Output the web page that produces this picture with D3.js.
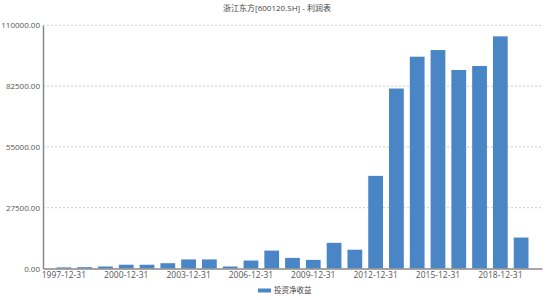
<!DOCTYPE html>
<html>
<head>
<meta charset="utf-8">
<script src="https://cdn.jsdelivr.net/npm/d3@7"></script>
<style>
	body { margin: 0; background: #fff; }
	text { font-family: "Open Sans", "Noto Sans CJK SC", sans-serif; }
</style>
</head>
<body>
<svg width="550" height="300"></svg>
<script>
var years = ["1997-12-31","1998-12-31","1999-12-31","2000-12-31","2001-12-31","2002-12-31",
	"2003-12-31","2004-12-31","2005-12-31","2006-12-31","2007-12-31","2008-12-31",
	"2009-12-31","2010-12-31","2011-12-31","2012-12-31","2013-12-31","2014-12-31",
	"2015-12-31","2016-12-31","2017-12-31","2018-12-31","2019-12-31"];
var income = [500, 600, 900, 1700, 1700, 2400, 4100, 4100, 900, 3600, 8100, 4800,
	3900, 11600, 8500, 41900, 81400, 95800, 98800, 89800, 91600, 105000, 14000];
var yTicks = [0, 27500, 55000, 82500, 110000];
var seriesName = "投资净收益";
var title = "浙江东方[600120.SH] - 利润表";

var svg = d3.select("svg"),
		plotL = 43, plotR = 542, plotT = 25.3, plotB = 268.5;

var xScale = d3.scaleBand().domain(years).range([plotL, plotR])
		.paddingInner(0.29).paddingOuter(0.65),
		yScale = d3.scaleLinear().domain([0, 110000]).range([plotB, plotT]);

svg.append("text")
	 .attr("x", 277).attr("y", 11)
	 .attr("text-anchor", "middle")
	 .attr("font-size", "8px").attr("fill", "#444")
	 .text(title);

// grid
svg.append("g").selectAll("line")
	 .data(yTicks.slice(1)).enter().append("line")
	 .attr("x1", plotL).attr("x2", plotR)
	 .attr("y1", function(d) { return yScale(d); })
	 .attr("y2", function(d) { return yScale(d); })
	 .attr("stroke", "#ccc").attr("stroke-dasharray", "2,2");

svg.selectAll(".bar")
	 .data(income)
	 .enter().append("rect")
	 .attr("class", "bar")
	 .attr("x", function(d, i) { return xScale(years[i]); })
	 .attr("y", function(d) { return yScale(d); })
	 .attr("width", xScale.bandwidth())
	 .attr("height", function(d) { return plotB - yScale(d); })
	 .attr("fill", "#4a85c5");

var yAxis = svg.append("g")
	 .attr("transform", "translate(" + plotL + ",0)")
	 .call(d3.axisLeft(yScale).tickValues(yTicks).tickFormat(d3.format(".2f")).tickSize(0).tickPadding(3));
yAxis.select(".domain").attr("stroke", "#888").attr("stroke-width", 1.5);
yAxis.selectAll("text").attr("font-size", "8px").attr("fill", "#555").attr("font-family", "Open Sans");

var xAxis = svg.append("g")
	 .attr("transform", "translate(0," + plotB + ")")
	 .call(d3.axisBottom(xScale).tickValues(years.filter(function(d, i) { return i % 3 === 0; }))
		 .tickSize(0).tickPadding(3.5));
xAxis.select(".domain").attr("stroke", "#888").attr("stroke-width", 1.5);
xAxis.selectAll("text").attr("font-size", "8.5px").attr("fill", "#555").attr("font-family", "Open Sans");

// legend
var lg = svg.append("g").attr("transform", "translate(258,288.5)");
lg.append("rect").attr("width", 13).attr("height", 4).attr("fill", "#4a85c5");
lg.append("text").attr("x", 16).attr("y", 4.5)
	.attr("font-size", "7.5px").attr("fill", "#444").text(seriesName);
</script>
</body>
</html>
